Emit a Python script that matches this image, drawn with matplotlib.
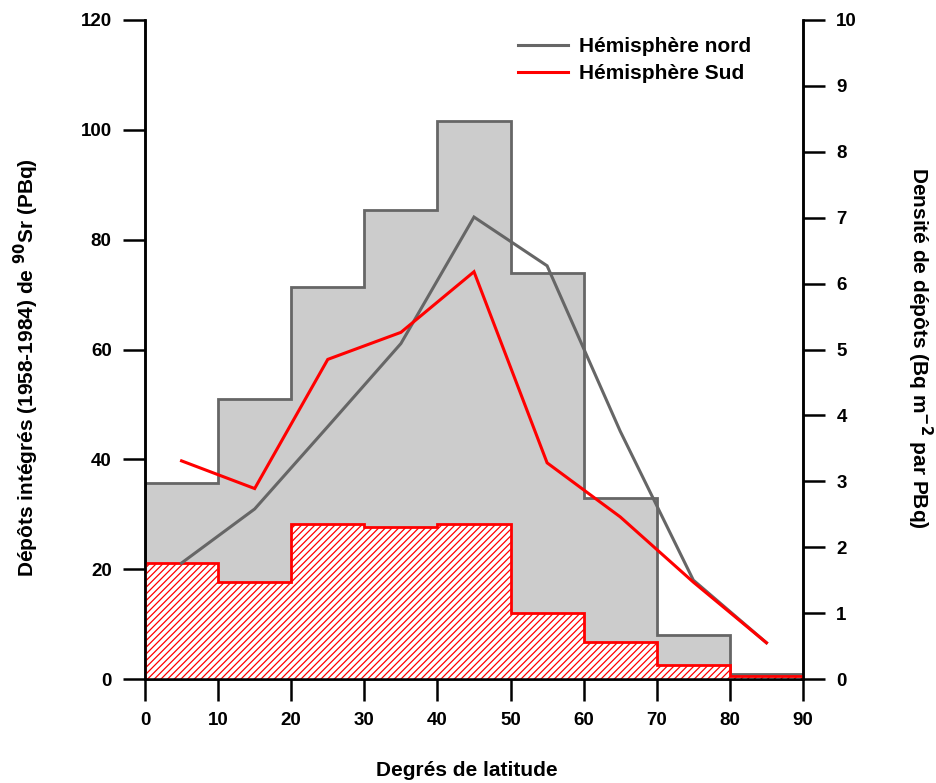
import numpy as np
import matplotlib
matplotlib.use("Agg")
import matplotlib.pyplot as plt
from matplotlib.lines import Line2D

plt.rcParams['font.family'] = ['Liberation Sans', 'DejaVu Sans']
plt.rcParams['hatch.linewidth'] = 0.9

# latitude bands (degrees)
lat_edges = [0, 10, 20, 30, 40, 50, 60, 70, 80, 90]
lat_mid = [5, 15, 25, 35, 45, 55, 65, 75, 85]

# integrated deposits 1958-1984 (PBq), per 10 degree band
dep_nord = [35.6, 50.9, 71.3, 85.4, 101.6, 73.9, 33.0, 8.0, 0.9]
dep_sud = [21.1, 17.7, 28.2, 27.7, 28.2, 12.1, 6.7, 2.5, 0.6]

# deposit density (Bq m-2 per PBq)
dens_nord = [1.76, 2.58, 3.83, 5.09, 7.01, 6.27, 3.76, 1.50, 0.55]
dens_sud = [3.31, 2.89, 4.85, 5.26, 6.18, 3.28, 2.46, 1.47, 0.55]

grey_fill = '#cccccc'
grey_line = '#666666'
red = '#ff0000'

W, H = 936, 783
fig = plt.figure(figsize=(W / 100, H / 100), dpi=100)
ax = fig.add_axes([145/W, 104/H, 658/W, 659/H])
ax2 = ax.twinx()

# histograms on the left axis
ax.stairs(dep_nord, lat_edges, baseline=0, fill=True, color=grey_fill, zorder=1)
ax.stairs(dep_nord, lat_edges, baseline=0, color=grey_line, lw=2.0, zorder=2)
ax.stairs(dep_sud, lat_edges, baseline=0, fill=True, facecolor='white',
          edgecolor=red, hatch='/////', lw=0, zorder=3)
ax.stairs(dep_sud, lat_edges, baseline=0, color=red, lw=2.0, zorder=4)

# density curves on the right axis
ax2.plot(lat_mid, dens_nord, color=grey_line, lw=2.2, solid_joinstyle='miter')
ax2.plot(lat_mid, dens_sud, color=red, lw=2.2, solid_joinstyle='miter')

ax.set_xlim(0, 90)
ax.set_ylim(0, 120)
ax2.set_ylim(0, 10)
ax.set_xticks(range(0, 91, 10))
ax.set_yticks(range(0, 121, 20))
ax2.set_yticks(range(0, 11))

for a in (ax, ax2):
    a.spines['top'].set_visible(False)
    for s in ('left', 'right', 'bottom'):
        a.spines[s].set_linewidth(1.8)
    a.tick_params(direction='out', length=16, width=1.8, labelsize=13.5, pad=8)
    for lab in a.get_xticklabels() + a.get_yticklabels():
        lab.set_fontweight('bold')

# axis titles placed in figure pixels
fig.text(467/W, 1 - 770/H, 'Degrés de latitude', fontsize=15, fontweight='bold',
         ha='center', va='center')
fig.text(26/W, 1 - 368/H, 'Dépôts intégrés (1958-1984) de $\\mathbf{^{90}}$Sr (PBq)',
         fontsize=15, fontweight='bold', rotation=90, ha='center', va='center')
fig.text(920/W, 1 - 348/H, 'Densité de dépôts (Bq m$\\mathbf{^{-2}}$ par PBq)',
         fontsize=15, fontweight='bold', rotation=270, ha='center', va='center')

handles = [Line2D([], [], color=grey_line, lw=2.2),
           Line2D([], [], color=red, lw=2.2)]
leg = ax2.legend(handles, ['Hémisphère nord', 'Hémisphère Sud'], frameon=False,
                 loc='upper left', bbox_to_anchor=(518/W, 1 - 37/H),
                 bbox_transform=fig.transFigure, borderpad=0, borderaxespad=0,
                 handlelength=2.4, handletextpad=0.55, labelspacing=0.4,
                 prop={'size': 15, 'weight': 'bold'})

fig.savefig('out.png', dpi=100)
